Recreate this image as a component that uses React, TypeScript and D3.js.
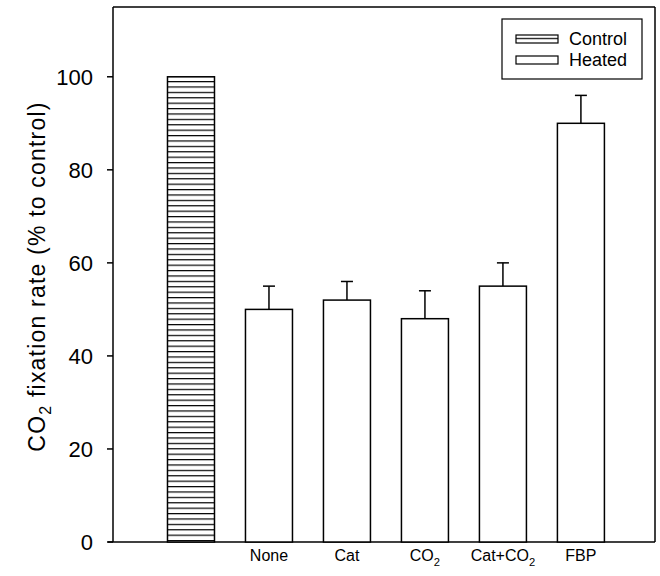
import React from "react";
import * as d3 from "d3";

const categories = ["", "None", "Cat", "CO2", "Cat+CO2", "FBP"];
const groups = ["Control", "Heated", "Heated", "Heated", "Heated", "Heated"];
const values = [100, 50, 52, 48, 55, 90];
const errors = [0, 5, 4, 6, 5, 6];
const yTicks = [0, 20, 40, 60, 80, 100];
const legendItems = ["Control", "Heated"];

const W = 660, H = 576;
const left = 113, right = 655, top = 7, bottom = 542;
const FONT = "Liberation Sans, Arial, sans-serif";

function Label({ text, x, y, size }: { text: string; x: number; y: number; size: number }) {
  const hasCO2 = text.endsWith("CO2");
  const base = hasCO2 ? text.slice(0, -1) : text;
  return (
    <text x={x} y={y} textAnchor="middle" fontSize={size} fontFamily={FONT} fill="#000">
      <tspan>{base}</tspan>
      {hasCO2 && (
        <tspan fontSize={size * 0.7} dy={size * 0.3}>
          2
        </tspan>
      )}
    </text>
  );
}

export default function App() {
  const x = d3.scaleLinear().domain([-1, 5.95]).range([left, right]);
  const y = d3.scaleLinear().domain([0, 115]).range([bottom, top]);
  const bw = 47;
  const cap = 6;

  return (
    <svg width={W} height={H} style={{ position: "absolute", left: 0, top: 0, background: "#fff" }}>
      <defs>
        <pattern id="hstripe" patternUnits="userSpaceOnUse" width="8" height="5.4">
          <rect width="8" height="5.4" fill="#fff" />
          <line x1="0" x2="8" y1="0.6" y2="0.6" stroke="#000" strokeWidth="1.2" />
        </pattern>
      </defs>
      <rect width={W} height={H} fill="#fff" />
      {/* frame */}
      <line x1={left} x2={right} y1={top} y2={top} stroke="#000" strokeWidth={1.5} />
      <line x1={right} x2={right} y1={top} y2={bottom} stroke="#000" strokeWidth={1.5} />
      <line x1={left} x2={left} y1={top} y2={bottom} stroke="#000" strokeWidth={1.5} />
      <line x1={left - 5} x2={right} y1={bottom} y2={bottom} stroke="#000" strokeWidth={1.5} />
      {yTicks.map((t) => (
        <g key={t}>
          <line x1={left - 6} x2={left} y1={y(t)} y2={y(t)} stroke="#000" strokeWidth={1.5} />
          <text x={left - 20} y={y(t)} dy="0.36em" textAnchor="end" fontSize={22} fontFamily={FONT}>
            {t}
          </text>
        </g>
      ))}
      {/* bars */}
      {values.map((v, i) => {
        const cx = x(i);
        const e = errors[i];
        return (
          <g key={i}>
            {e > 0 && (
              <>
                <line x1={cx} x2={cx} y1={y(v)} y2={y(v + e)} stroke="#000" strokeWidth={1.5} />
                <line x1={cx - cap} x2={cx + cap} y1={y(v + e)} y2={y(v + e)} stroke="#000" strokeWidth={1.5} />
              </>
            )}
            <rect
              x={cx - bw / 2}
              y={y(v)}
              width={bw}
              height={y(0) - y(v)}
              fill={groups[i] === "Control" ? "url(#hstripe)" : "#fff"}
              stroke="#000"
              strokeWidth={1.5}
            />
            {categories[i] && <Label text={categories[i]} x={cx} y={561} size={16} />}
          </g>
        );
      })}
      {/* y label */}
      <g transform={`translate(45, ${(top + bottom) / 2 + 2}) rotate(-90)`}>
        <text textAnchor="middle" fontSize={23} fontFamily={FONT} letterSpacing={1.2}>
          <tspan>CO</tspan>
          <tspan fontSize={16} dy={6}>2</tspan>
          <tspan dy={-6}> fixation rate (% to control)</tspan>
        </text>
      </g>
      {/* legend */}
      <rect x={502} y={19} width={140} height={60} fill="#fff" stroke="#000" strokeWidth={1.2} />
      {legendItems.map((l, i) => (
        <g key={l}>
          <rect
            x={516}
            y={35 + i * 21}
            width={42}
            height={8}
            fill={l === "Control" ? "url(#hstripe)" : "#fff"}
            stroke="#000"
            strokeWidth={1.2}
          />
          <text x={569} y={39 + i * 21} dy="0.36em" fontSize={18} fontFamily={FONT}>
            {l}
          </text>
        </g>
      ))}
    </svg>
  );
}
